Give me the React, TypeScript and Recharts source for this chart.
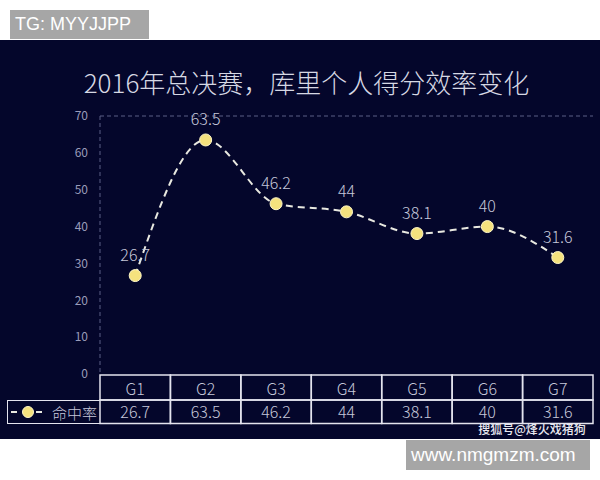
import React from 'react';
import {
  LineChart, Line, XAxis, YAxis, CartesianGrid, Legend, LabelList,
} from 'recharts';

const games = ['G1', 'G2', 'G3', 'G4', 'G5', 'G6', 'G7'];
const hitRate = [26.7, 63.5, 46.2, 44, 38.1, 40, 31.6];
const yTicks = [0, 10, 20, 30, 40, 50, 60, 70];
const seriesName = '命中率';
const title = '2016年总决赛，库里个人得分效率变化';

const data = games.map((g, i) => ({ game: g, rate: hitRate[i] }));

const W = 600;
const H = 480;
const PLOT_LEFT = 100;
const PLOT_RIGHT = 7;
const colW = (W - PLOT_LEFT - PLOT_RIGHT) / games.length;
const FONT = "'Noto Sans CJK SC', 'Noto Sans', sans-serif";
const textCol = '#c6c8da';
const tableLine = '#e4e4ee';
const gridCol = '#5a5e86';

// x-axis tick draws one column of the data table under the plot
function TableTick(props: any) {
  const { x, y, payload } = props;
  const i = payload.index;
  const left = x - colW / 2;
  return (
    <g>
      <rect x={left} y={y + 1} width={colW} height={25} fill="none" stroke={tableLine} strokeWidth={1.5} />
      <rect x={left} y={y + 26} width={colW} height={23.5} fill="none" stroke={tableLine} strokeWidth={1.5} />
      <text x={x} y={y + 14} textAnchor="middle" dominantBaseline="central" fill={textCol} fontSize={16} fontFamily={FONT} fontWeight={300}>
        {payload.value}
      </text>
      <text x={x} y={y + 37} textAnchor="middle" dominantBaseline="central" fill={textCol} fontSize={16} fontFamily={FONT} fontWeight={300}>
        {hitRate[i]}
      </text>
    </g>
  );
}

function LegendCell() {
  return (
    <div style={{
      width: 93, height: 24, boxSizing: 'border-box', border: `1.5px solid ${tableLine}`, borderRight: 'none',
      display: 'flex', alignItems: 'center', fontFamily: FONT, fontSize: 15, color: textCol,
    }}>
      <svg width={40} height={20} style={{ display: 'block' }}>
        <line x1={3} y1={10} x2={9} y2={10} stroke="#e8e8e0" strokeWidth={2} />
        <line x1={28} y1={10} x2={34} y2={10} stroke="#e8e8e0" strokeWidth={2} />
        <circle cx={20} cy={10} r={5.5} fill="#f5e27e" stroke="#fff7c8" strokeWidth={1} />
      </svg>
      <span style={{ marginLeft: 4, fontWeight: 300, whiteSpace: 'nowrap' }}>{seriesName}</span>
    </div>
  );
}

function PointLabel(props: any) {
  const { x, y, value } = props;
  return (
    <text x={x} y={y - 22} textAnchor="middle" dominantBaseline="central" fill={textCol} fontSize={16} fontFamily={FONT} fontWeight={300}>
      {value}
    </text>
  );
}

export default function App() {
  return (
    <div style={{ position: 'fixed', left: 0, top: 0, width: W, height: H, background: '#fff', overflow: 'hidden' }}>
      <div style={{
        position: 'absolute', left: 10, top: 10, width: 139, height: 29, background: '#a6a6a6', color: '#fff',
        fontFamily: "'Liberation Sans', Arial, sans-serif", fontSize: 18, lineHeight: '29px', paddingLeft: 5, boxSizing: 'border-box',
      }}>
        TG: MYYJJPP
      </div>
      <div style={{ position: 'absolute', left: 0, top: 40, width: W, height: 399, background: '#04062b' }} />
      <div style={{
        position: 'absolute', left: 0, top: 64, width: 613, textAlign: 'center', color: '#d6d8e4',
        fontFamily: FONT, fontSize: 26, fontWeight: 300, lineHeight: '36px',
      }}>
        {title}
      </div>
      <div style={{ position: 'absolute', left: 0, top: 0 }}>
        <LineChart width={W} height={H} data={data} margin={{ top: 116, right: PLOT_RIGHT, bottom: 56, left: 60 }}>
          <CartesianGrid vertical={false} horizontalValues={[70]} stroke={gridCol} strokeDasharray="4 3" />
          <XAxis
            dataKey="game"
            interval={0}
            axisLine={false}
            tickLine={false}
            tickSize={0}
            tickMargin={0}
            height={50}
            padding={{ left: colW / 2, right: colW / 2 }}
            tick={<TableTick />}
          />
          <YAxis
            domain={[0, 70]}
            ticks={yTicks}
            width={40}
            tickLine={false}
            axisLine={{ stroke: gridCol, strokeDasharray: '4 3' }}
            tick={{ fill: '#9a9cba', fontSize: 12, fontFamily: FONT }}
            tickMargin={6}
          />
          <YAxis
            yAxisId="right"
            orientation="right"
            domain={[0, 70]}
            width={0}
            tick={false}
            tickLine={false}
            axisLine={{ stroke: gridCol, strokeDasharray: '4 3' }}
          />
          <Legend
            layout="vertical"
            align="center"
            verticalAlign="middle"
            content={() => <LegendCell />}
            wrapperStyle={{ position: 'absolute', left: 7, top: 400, width: 93, height: 24, margin: 0, padding: 0 }}
          />
          <Line
            type="monotone"
            dataKey="rate"
            name={seriesName}
            stroke="#e8e8e0"
            strokeWidth={2}
            strokeDasharray="7 5"
            dot={{ r: 6, fill: '#f5e27e', stroke: '#fff7c8', strokeWidth: 1, strokeDasharray: '' }}
            isAnimationActive={false}
          >
            <LabelList dataKey="rate" content={<PointLabel />} />
          </Line>
        </LineChart>
      </div>
      <div style={{
        position: 'absolute', left: 474, top: 422, width: 116, textAlign: 'center', color: '#e8e8f0', whiteSpace: 'nowrap',
        fontFamily: FONT, fontSize: 12, fontWeight: 500, lineHeight: '14px',
      }}>
        搜狐号@烽火戏猪狗
      </div>
      <div style={{
        position: 'absolute', left: 406, top: 440, width: 184, height: 30, background: '#a6a6a6', color: '#fff',
        fontFamily: "'Liberation Sans', Arial, sans-serif", fontSize: 19, lineHeight: '30px', paddingLeft: 5, boxSizing: 'border-box',
      }}>
        www.nmgmzm.com
      </div>
    </div>
  );
}
